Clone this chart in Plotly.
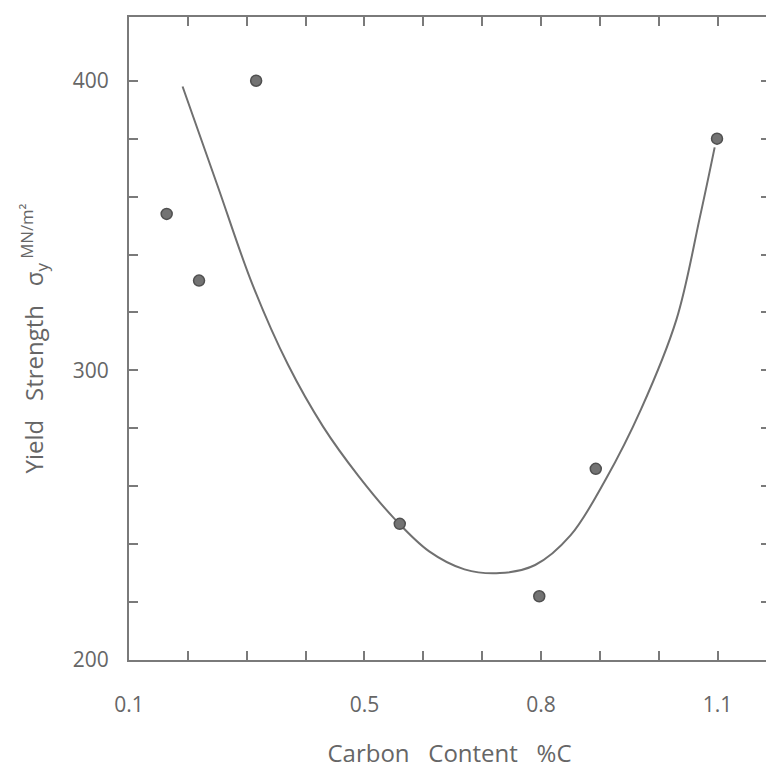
import plotly.graph_objects as go

# Measured data points (carbon content %C, yield strength MN/m^2)
carbon = [0.164, 0.219, 0.316, 0.560, 0.797, 0.893, 1.099]
yield_strength = [354, 331, 400, 247, 222, 266, 380]

# Hand-drawn trend curve
curve_x = [0.191, 0.25, 0.31, 0.37, 0.43, 0.49, 0.55, 0.61, 0.67, 0.73,
           0.79, 0.85, 0.91, 0.97, 1.03, 1.07, 1.095]
curve_y = [398, 364, 329.5, 302, 280.5, 263.5, 249, 237.5, 231.3, 230,
           232.8, 243, 262.4, 286.6, 317.5, 353, 377]

# Axis ticks
x_tickvals = [0.1, 0.2, 0.3, 0.4, 0.5, 0.6, 0.7, 0.8, 0.9, 1.0, 1.1]
x_ticktext = ["0.1", "", "", "", "0.5", "", "", "0.8", "", "", "1.1"]
y_tickvals = [200, 220, 240, 260, 280, 300, 320, 340, 360, 380, 400]
y_ticktext = ["200", "", "", "", "", "300", "", "", "", "", "400"]

ink = "#666666"
font_family = "Open Sans, DejaVu Sans, sans-serif"

fig = go.Figure()
fig.add_trace(go.Scatter(
    x=curve_x, y=curve_y, mode="lines",
    line=dict(color="#707070", width=2, shape="spline", smoothing=1),
    hoverinfo="skip", showlegend=False,
))
fig.add_trace(go.Scatter(
    x=carbon, y=yield_strength, mode="markers",
    marker=dict(symbol="circle", size=11, color="#737373",
                line=dict(color="#505050", width=1.5)),
    showlegend=False,
))

axis_common = dict(
    showline=True, linecolor="#7a7a7a", linewidth=2, mirror="ticks",
    ticks="inside", ticklen=9, tickwidth=1.5, tickcolor="#7a7a7a",
    showgrid=False, zeroline=False, automargin=False,
    tickfont=dict(family=font_family, size=21, color=ink),
)

# The page body has an 8px margin, so the figure is sized to fit the window.
fig.update_layout(
    width=766, height=768,
    margin=dict(l=121, r=4, t=9, b=116),
    paper_bgcolor="white", plot_bgcolor="white",
    xaxis=dict(
        range=[0.1, 1.189], tickmode="array",
        tickvals=x_tickvals, ticktext=x_ticktext,
        ticklabelstandoff=25,
        title=dict(text="Carbon\u00a0\u00a0 Content\u00a0\u00a0 %C",
                   font=dict(family=font_family, size=24, color=ink),
                   standoff=28),
        **axis_common,
    ),
    yaxis=dict(
        range=[200, 422], tickmode="array",
        tickvals=y_tickvals, ticktext=y_ticktext,
        ticklabelstandoff=14,
        title=dict(text="Yield\u00a0\u00a0 Strength\u00a0\u00a0 σ<sub>y</sub><sup> MN/m²</sup>",
                   font=dict(family=font_family, size=24, color=ink),
                   standoff=22),
        **axis_common,
    ),
)

fig.write_html("out.html")
